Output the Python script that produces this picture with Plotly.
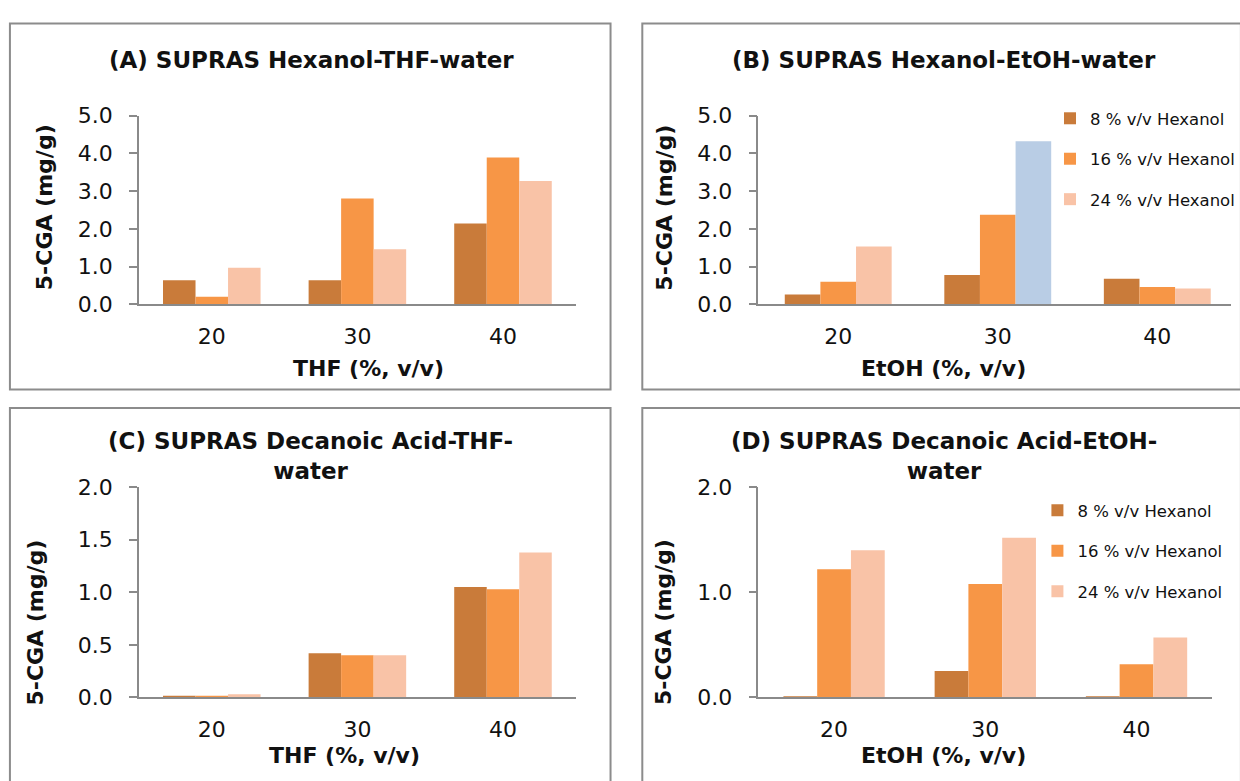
import plotly.graph_objects as go

W, H = 1240, 781

# ---- data ----
categories = ["20", "30", "40"]
series_names = ["8 % v/v Hexanol", "16 % v/v Hexanol", "24 % v/v Hexanol"]

a_8 = [0.64, 0.64, 2.14]
a_16 = [0.20, 2.80, 3.89]
a_24 = [0.97, 1.46, 3.27]

b_8 = [0.26, 0.78, 0.68]
b_16 = [0.60, 2.37, 0.46]
b_24 = [1.53, 4.32, 0.42]

c_8 = [0.015, 0.42, 1.05]
c_16 = [0.015, 0.40, 1.03]
c_24 = [0.03, 0.40, 1.38]

d_8 = [0.005, 0.25, 0.005]
d_16 = [1.22, 1.08, 0.315]
d_24 = [1.40, 1.52, 0.57]

panel_titles = [
    "(A) SUPRAS Hexanol-THF-water",
    "(B) SUPRAS Hexanol-EtOH-water",
    "(C) SUPRAS Decanoic Acid-THF-<br>water",
    "(D) SUPRAS Decanoic Acid-EtOH-<br>water",
]
x_titles = ["THF (%, v/v)", "EtOH (%, v/v)", "THF (%, v/v)", "EtOH (%, v/v)"]
y_title = "5-CGA (mg/g)"

# ---- styles ----
FONT = "DejaVu Sans"
C_DARK = "#C97B3A"
C_MID = "#F79646"
C_LIGHT = "#F9C3A7"
C_BLUE = "#B9CDE5"
AX = "#8A8A8A"


def px(x):
    return x / W


def py(y):
    return 1 - y / H


fig = go.Figure()

panels = [
    ([a_8, a_16, a_24], "x", "y", None),
    ([b_8, b_16, b_24], "x2", "y2", "legend"),
    ([c_8, c_16, c_24], "x3", "y3", None),
    ([d_8, d_16, d_24], "x4", "y4", "legend2"),
]
colors = [C_DARK, C_MID, C_LIGHT]

for p, (vals, xa, ya, leg) in enumerate(panels):
    for s in range(3):
        col = colors[s]
        if p == 1 and s == 2:
            col = [C_LIGHT, C_BLUE, C_LIGHT]
        kw = dict(
            x=categories, y=vals[s], name=series_names[s],
            marker=dict(color=col, line=dict(width=0)),
            xaxis=xa, yaxis=ya, showlegend=leg is not None,
            legendgroup=f"p{p}s{s}", hoverinfo="y",
        )
        if leg is not None:
            kw["legend"] = leg
        fig.add_trace(go.Bar(**kw))

common_x = dict(type="category", showline=True, linecolor=AX, linewidth=1.5,
                ticks="", showgrid=False, zeroline=False,
                tickfont=dict(family=FONT, size=22, color="#111"),
                ticklabelstandoff=12, fixedrange=True)
common_y = dict(showline=True, linecolor=AX, linewidth=1.5, ticks="outside",
                ticklen=8, tickcolor=AX, tickwidth=1.5, showgrid=False,
                zeroline=False, tickfont=dict(family=FONT, size=22, color="#111"),
                ticklabelstandoff=12, tickformat=".1f", fixedrange=True)

layout = dict(
    width=W, height=H, margin=dict(l=0, r=0, t=0, b=0),
    paper_bgcolor="white", plot_bgcolor="white",
    barmode="group", bargap=0.33, bargroupgap=0,
    font=dict(family=FONT, color="#111"),
    xaxis=dict(domain=[px(140), px(580)], range=[-0.5, 2.5], anchor="y", **common_x),
    yaxis=dict(domain=[py(302), py(107)], range=[0, 5], dtick=1, anchor="x", **common_y),
    xaxis2=dict(domain=[px(764), 1.0], range=[-0.5, 2.462], anchor="y2", **common_x),
    yaxis2=dict(domain=[py(302), py(107)], range=[0, 5], dtick=1, anchor="x2", **common_y),
    xaxis3=dict(domain=[px(140), px(580)], range=[-0.5, 2.5], anchor="y3", **common_x),
    yaxis3=dict(domain=[py(708), py(491)], range=[0, 2], dtick=0.5, anchor="x3", **common_y),
    xaxis4=dict(domain=[px(764), px(1221)], range=[-0.5, 2.5], anchor="y4", **common_x),
    yaxis4=dict(domain=[py(708), py(491)], range=[0, 2], dtick=1, anchor="x4", **common_y),
    legend=dict(x=px(1058), y=py(92), xanchor="left", yanchor="top",
                font=dict(family=FONT, size=16.5, color="#111"),
                bgcolor="rgba(0,0,0,0)", tracegroupgap=16, itemclick=False),
    legend2=dict(x=px(1045), y=py(497), xanchor="left", yanchor="top",
                 font=dict(family=FONT, size=16.5, color="#111"),
                 bgcolor="rgba(0,0,0,0)", tracegroupgap=16, itemclick=False),
    showlegend=True,
)
fig.update_layout(**layout)

borders = [(10, 12, 615, 390), (647, 12, 1250, 390), (10, 409, 615, 800), (647, 409, 1250, 800)]
for (x0, y0, x1, y1) in borders:
    fig.add_shape(type="rect", xref="paper", yref="paper",
                  x0=px(x0), x1=px(x1), y0=py(y1), y1=py(y0),
                  line=dict(color="#8C8C8C", width=2), fillcolor="rgba(0,0,0,0)", layer="below")

ann = []
title_pos = [(314, 50), (951, 50), (313, 459), (951, 459)]
for t, (x, y) in zip(panel_titles, title_pos):
    ann.append(dict(text=f"<b>{t}</b>", x=px(x), y=py(y), xref="paper", yref="paper",
                    showarrow=False, xanchor="center", yanchor="middle",
                    font=dict(family=FONT, size=23, color="#111")))
xt_pos = [(371, 368), (950, 368), (347, 768), (950, 768)]
for t, (x, y) in zip(x_titles, xt_pos):
    ann.append(dict(text=f"<b>{t}</b>", x=px(x), y=py(y), xref="paper", yref="paper",
                    showarrow=False, xanchor="center", yanchor="middle",
                    font=dict(family=FONT, size=22, color="#111")))
yt_pos = [(45, 202), (669, 202), (36, 631), (669, 630)]
for (x, y) in yt_pos:
    ann.append(dict(text=f"<b>{y_title}</b>", x=px(x), y=py(y), xref="paper", yref="paper",
                    showarrow=False, xanchor="center", yanchor="middle", textangle=-90,
                    font=dict(family=FONT, size=22, color="#111")))
fig.update_layout(annotations=ann)

post = (
    "var h=document.documentElement, b=document.body;"
    "h.style.margin='0';h.style.padding='0';h.style.overflow='hidden';"
    "h.style.width='1240px';h.style.height='781px';"
    "b.style.margin='0';b.style.padding='0';b.style.overflow='hidden';"
    "b.style.width='1240px';b.style.height='781px';"
    "var d=document.getElementById('{plot_id}');"
    "if(d){d.style.position='fixed';d.style.left='0px';d.style.top='0px';}"
)

fig.write_html("out.html", config={"displayModeBar": False}, post_script=post)
